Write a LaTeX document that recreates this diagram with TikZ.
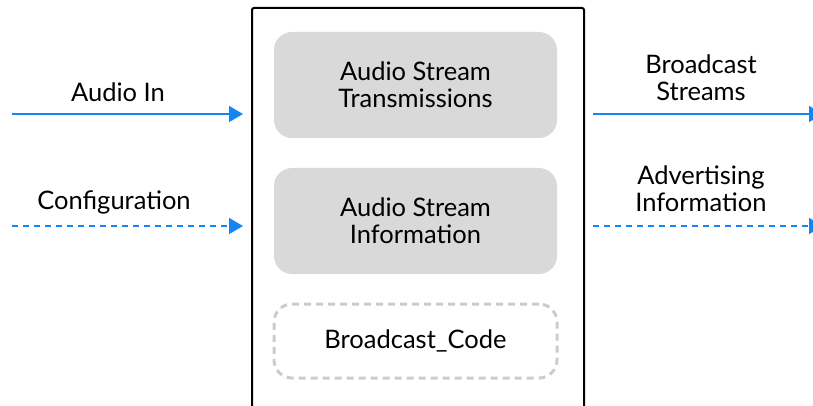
\documentclass[tikz,border=0pt]{standalone}
\usepackage{fontspec}
\setmainfont{Lato}
\usetikzlibrary{arrows.meta}
\definecolor{flowblue}{HTML}{1485F5}
\definecolor{panelgray}{HTML}{D9D9D9}
\definecolor{dashgray}{HTML}{CCCCCC}
\begin{document}
\begin{tikzpicture}[x=1pt,y=-1pt,
  lbl/.style={font=\fontsize{25.5}{27}\selectfont, align=center, text=black},
  panel/.style={fill=panelgray, rounded corners=18pt, minimum width=283pt, minimum height=106pt, inner sep=0pt, lbl},
  optpanel/.style={draw=dashgray, line width=3pt, dash pattern=on 7pt off 5pt, rounded corners=18pt, minimum width=283pt, minimum height=74pt, inner sep=0pt, lbl},
  flow/.style={draw=flowblue, line width=1.6pt, -{Triangle[length=14pt,width=16pt]}},
  flowdash/.style={flow, dash pattern=on 6pt off 5pt}]
\useasboundingbox (0,0) rectangle (813,406);
\clip (0,0) rectangle (813,406);
% enclosing block, open past the lower edge
\draw[line width=2pt, rounded corners=2pt] (252,8) rectangle (584,420);
\node[panel] (tx) at (415.5,85) {Audio Stream\\Transmissions};
\node[panel] (info) at (415.5,221) {Audio Stream\\Information};
\node[optpanel] (code) at (415.5,341) {Broadcast\_Code};
% inputs
\coordinate (inA) at (12,114);
\coordinate (inAe) at (243,114);
\coordinate (inC) at (12,226);
\coordinate (inCe) at (243,226);
\draw[flow] (inA) -- (inAe);
\draw[flowdash] (inC) -- (inCe);
\node[lbl] (lA) at (118,92) {Audio In};
\node[lbl] (lC) at (114,202) {Configuration};
% outputs, tips running past the right edge
\coordinate (outB) at (593,114);
\coordinate (outBe) at (823,114);
\coordinate (outA) at (593,226);
\coordinate (outAe) at (823,226);
\draw[flow] (outB) -- (outBe);
\draw[flowdash] (outA) -- (outAe);
\node[lbl] (lB) at (701,78) {Broadcast\\Streams};
\node[lbl] (lAd) at (701,189) {Advertising\\Information};
\end{tikzpicture}
\end{document}
